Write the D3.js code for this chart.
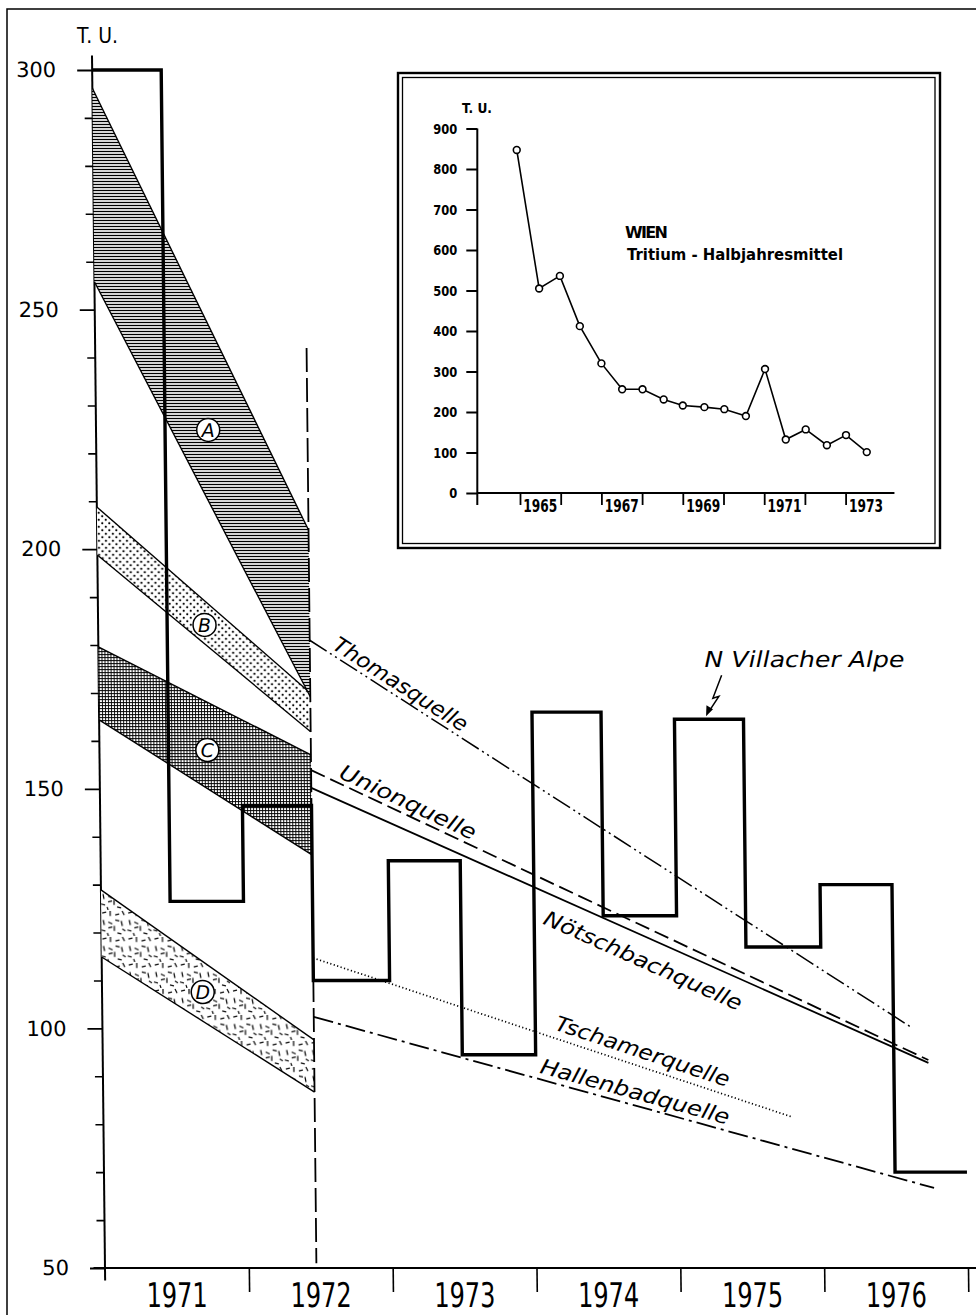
<!DOCTYPE html>
<html>
<head>
<meta charset="utf-8">
<script src="https://cdn.jsdelivr.net/npm/d3@7"></script>
<style>
body { margin: 0; background: #fff; }
svg { display: block; }
</style>
</head>
<body>
<div id="chart"></div>
<script>
// --- main chart: N Villacher Alpe half-year means (step) ---
const stepYears = [1971.0, 1971.48, 1971.99, 1972.47, 1973.0, 1973.5, 1974.01, 1974.49, 1975.0, 1975.48, 1976.0, 1976.5, 1977.0];
const stepValues = [300, 126.5, 146.5, 110, 135, 94.5, 166, 123.5, 164.5, 117, 130, 70, 70];

// shaded bands A-D between 1971 and the 1972 mark
const bandNames = ["A", "B", "C", "D"];
const bandLeftTop = [296.2, 208.8, 179.6, 128.9];
const bandLeftBottom = [255.8, 198.8, 164.4, 114.9];
const bandRightTop = [204, 170, 157.1, 97.6];
const bandRightBottom = [169.2, 161.9, 136.2, 86.7];
const bandLabelYears = [1971.78, 1971.74, 1971.75, 1971.70];
const bandLabelValues = [224.9, 184.2, 158.1, 107.6];
const bandStartYear = 1971.0;
const markYear = 1972.47;
const markTop = 242;

// spring trend lines
const trendNames = ["Thomasquelle", "Unionquelle", "Nötschbachquelle", "Tschamerquelle", "Hallenbadquelle"];
const trendStartValues = [181, 153.9, 150.2, 114.7, 102.4];
const trendEndYears = [1976.63, 1976.74, 1976.74, 1975.79, 1976.77];
const trendEndValues = [100.1, 93.4, 92.8, 81.5, 66.7];

const yMajor = [50, 100, 150, 200, 250, 300];
const yMinor = d3.range(60, 300, 10).filter(v => v % 50 !== 0);
const xYears = [1971, 1972, 1973, 1974, 1975, 1976];

// --- inset: Wien tritium half-year means ---
const wienYears = [1964.92, 1965.47, 1965.98, 1966.47, 1967.0, 1967.51, 1968.01, 1968.53, 1969.0, 1969.53, 1970.02, 1970.55, 1971.02, 1971.53, 1972.02, 1972.54, 1973.01, 1973.52];
const wienValues = [847, 505, 536, 412, 320, 256, 256, 231, 216, 212, 207, 190, 306, 132, 157, 118, 143, 101];
const insetYTicks = d3.range(0, 901, 100);
const insetXTicks = d3.range(1965, 1974);
const insetLabelYears = [1965, 1967, 1969, 1971, 1973];

const FONT = "'DejaVu Sans', 'Liberation Sans', sans-serif";

const svg = d3.select("#chart").append("svg")
    .attr("width", 976)
    .attr("height", 1315);

const defs = svg.append("defs");

// A: dense horizontal hatch
const pA = defs.append("pattern").attr("id", "patA")
    .attr("patternUnits", "userSpaceOnUse").attr("width", 6).attr("height", 3);
pA.append("rect").attr("width", 6).attr("height", 3).attr("fill", "#fff");
pA.append("line").attr("x1", 0).attr("x2", 6).attr("y1", 1.5).attr("y2", 1.5)
    .attr("stroke", "#000").attr("stroke-width", 1.5);

// B: sparse dots
const pB = defs.append("pattern").attr("id", "patB")
    .attr("patternUnits", "userSpaceOnUse").attr("width", 7).attr("height", 7);
pB.append("rect").attr("width", 7).attr("height", 7).attr("fill", "#fff");
pB.append("circle").attr("cx", 1.75).attr("cy", 1.75).attr("r", 1.05).attr("fill", "#000");
pB.append("circle").attr("cx", 5.25).attr("cy", 5.25).attr("r", 1.05).attr("fill", "#000");

// C: fine mesh
const pC = defs.append("pattern").attr("id", "patC")
    .attr("patternUnits", "userSpaceOnUse").attr("width", 3).attr("height", 3);
pC.append("rect").attr("width", 3).attr("height", 3).attr("fill", "#fff");
pC.append("path").attr("d", "M0,0.5H3M0.5,0V3")
    .attr("stroke", "#000").attr("stroke-width", 0.9);

// D: short scattered strokes
const confetti = [[2,3,6,2],[10,1,10,6],[15,5,19,4],[22,1,24,5],[3,10,4,15],[8,12,12,14],[15,10,19,11],
    [21,11,22,16],[1,20,5,21],[8,18,12,17],[14,16,14,21],[17,23,21,24],[22,19,25,21],[7,23,8,26]];
const pD = defs.append("pattern").attr("id", "patD")
    .attr("patternUnits", "userSpaceOnUse").attr("width", 26).attr("height", 26);
pD.append("rect").attr("width", 26).attr("height", 26).attr("fill", "#fff");
pD.selectAll("line").data(confetti).enter().append("line")
    .attr("x1", d => d[0]).attr("y1", d => d[1]).attr("x2", d => d[2]).attr("y2", d => d[3])
    .attr("stroke", "#000").attr("stroke-width", 1.2);

const bandFill = { A: "url(#patA)", B: "url(#patB)", C: "url(#patC)", D: "url(#patD)" };

// outer frame
svg.append("rect")
    .attr("x", 7).attr("y", 9).attr("width", 1000).attr("height", 1400)
    .attr("fill", "none").attr("stroke", "#000").attr("stroke-width", 1.5);

const xs = d3.scaleLinear().domain([1971, 1977]).range([105, 968]);
const ys = d3.scaleLinear().domain([50, 300]).range([1268, 70]);

// the scan is slightly sheared; mimic it
const skewDeg = Math.atan(13 / 1213) * 180 / Math.PI;
const main = svg.append("g")
    .attr("transform", `translate(0,1268) skewX(${skewDeg}) translate(0,-1268)`);

// axes
main.append("line")
    .attr("x1", xs(1971)).attr("x2", xs(1971))
    .attr("y1", ys(303)).attr("y2", ys(47.4))
    .attr("stroke", "#000").attr("stroke-width", 2);
main.append("line")
    .attr("x1", xs(1970.92)).attr("x2", 976)
    .attr("y1", ys(50)).attr("y2", ys(50))
    .attr("stroke", "#000").attr("stroke-width", 2);

const yAxis = d3.axisLeft(ys).tickValues(yMajor).tickSize(15).tickPadding(21).tickFormat(d3.format("d"));
const gy = main.append("g")
    .attr("transform", `translate(${xs(1971)},0)`)
    .call(yAxis)
    .attr("font-family", FONT).attr("font-size", 21);
gy.select(".domain").remove();
gy.selectAll("line").attr("stroke-width", 1.8);
gy.selectAll("text").attr("fill", "#000");

const yAxisMinor = d3.axisLeft(ys).tickValues(yMinor).tickSize(8).tickFormat("");
const gym = main.append("g")
    .attr("transform", `translate(${xs(1971)},0)`)
    .call(yAxisMinor);
gym.select(".domain").remove();
gym.selectAll("line").attr("stroke-width", 1.6);

const xAxis = d3.axisBottom(xs).tickValues(d3.range(1972, 1978)).tickSize(24).tickFormat("");
const gx = main.append("g")
    .attr("transform", `translate(0,${ys(50)})`)
    .call(xAxis);
gx.select(".domain").remove();
gx.selectAll("line").attr("stroke-width", 1.6);

main.selectAll(".year-label")
    .data(xYears)
    .enter().append("text")
    .attr("class", "year-label")
    .attr("x", d => xs(d + 0.5))
    .attr("y", 1307)
    .attr("text-anchor", "middle")
    .attr("font-family", FONT)
    .attr("font-size", 34)
    .attr("textLength", 61)
    .attr("lengthAdjust", "spacingAndGlyphs")
    .text(d => d);

svg.append("text")
    .attr("x", 77).attr("y", 43)
    .attr("font-family", FONT).attr("font-size", 22)
    .attr("textLength", 41).attr("lengthAdjust", "spacingAndGlyphs")
    .text("T. U.");

// bands
const bandOrder = [3, 2, 1, 0];
bandOrder.forEach(i => {
    const pts = [
        [xs(bandStartYear), ys(bandLeftTop[i])],
        [xs(markYear), ys(bandRightTop[i])],
        [xs(markYear), ys(bandRightBottom[i])],
        [xs(bandStartYear), ys(bandLeftBottom[i])]
    ];
    main.append("path")
        .attr("d", "M" + pts.join("L") + "Z")
        .attr("fill", bandFill[bandNames[i]])
        .attr("stroke", "none");
    main.append("line")
        .attr("x1", pts[0][0]).attr("y1", pts[0][1]).attr("x2", pts[1][0]).attr("y2", pts[1][1])
        .attr("stroke", "#000").attr("stroke-width", 1.4);
    main.append("line")
        .attr("x1", pts[3][0]).attr("y1", pts[3][1]).attr("x2", pts[2][0]).attr("y2", pts[2][1])
        .attr("stroke", "#000").attr("stroke-width", 1.4);
});

// trend lines
const trendDash = ["20,4,2,4,2,4", "15,6", null, "1.2,2.4", "20,5,3,5"];
const trendWidth = [1.5, 1.8, 1.8, 1.7, 1.8];
const trendLabelAt = [1972.60, 1972.64, 1974.15, 1974.12, 1974.02];
const trendLabelOffset = [-5, -5, 30, -8, -6];
const trendLabelLength = [155, 148, 214, 182, 195];

trendNames.forEach((name, i) => {
    const x0 = xs(markYear), y0 = ys(trendStartValues[i]);
    const x1 = xs(trendEndYears[i]), y1 = ys(trendEndValues[i]);
    main.append("line")
        .attr("x1", x0).attr("y1", y0).attr("x2", x1).attr("y2", y1)
        .attr("stroke", "#000")
        .attr("stroke-width", trendWidth[i])
        .attr("stroke-dasharray", trendDash[i]);

    const f = (trendLabelAt[i] - markYear) / (trendEndYears[i] - markYear);
    const lx = x0 + (x1 - x0) * f;
    const ly = y0 + (y1 - y0) * f;
    const ang = Math.atan2(y1 - y0, x1 - x0) * 180 / Math.PI;
    main.append("text")
        .attr("transform", `translate(${lx},${ly}) rotate(${ang}) translate(0,${trendLabelOffset[i]})`)
        .attr("font-family", FONT)
        .attr("font-style", "italic")
        .attr("font-size", 21)
        .attr("textLength", trendLabelLength[i])
        .attr("lengthAdjust", "spacingAndGlyphs")
        .text(name);
});

// 1972 mark (dashed)
main.append("line")
    .attr("x1", xs(markYear)).attr("x2", xs(markYear))
    .attr("y1", ys(markTop)).attr("y2", ys(51))
    .attr("stroke", "#000").attr("stroke-width", 1.8)
    .attr("stroke-dasharray", "24,6");

// step function
const stepData = stepYears.map((y, i) => [y, stepValues[i]]);
const stepLine = d3.line()
    .x(d => xs(d[0]))
    .y(d => ys(d[1]))
    .curve(d3.curveStepAfter);
main.append("path")
    .datum(stepData)
    .attr("d", stepLine)
    .attr("fill", "none")
    .attr("stroke", "#000")
    .attr("stroke-width", 3.4)
    .attr("stroke-linejoin", "miter");

// circled band letters
bandNames.forEach((name, i) => {
    const cx = xs(bandLabelYears[i]), cy = ys(bandLabelValues[i]);
    main.append("circle")
        .attr("cx", cx).attr("cy", cy).attr("r", 11.5)
        .attr("fill", "#fff").attr("stroke", "#000").attr("stroke-width", 1.5);
    main.append("text")
        .attr("x", cx).attr("y", cy + 7)
        .attr("text-anchor", "middle")
        .attr("font-family", FONT).attr("font-style", "italic").attr("font-size", 19)
        .text(name);
});

// N Villacher Alpe annotation with flash arrow
const tipX = xs(1975.22), tipY = ys(164.5) - 3;
main.append("path")
    .attr("d", `M${tipX + 16},${tipY - 41}L${tipX + 7},${tipY - 18}L${tipX + 13},${tipY - 20}L${tipX + 3},${tipY - 5}`)
    .attr("fill", "none").attr("stroke", "#000").attr("stroke-width", 1.5);
main.append("path")
    .attr("d", `M${tipX},${tipY}L${tipX + 0.5},${tipY - 11}L${tipX + 7},${tipY - 7}Z`)
    .attr("fill", "#000");
main.append("text")
    .attr("x", tipX - 1).attr("y", tipY - 49)
    .attr("font-family", FONT).attr("font-style", "italic").attr("font-size", 22)
    .attr("textLength", 200).attr("lengthAdjust", "spacingAndGlyphs")
    .text("N  Villacher  Alpe");

// --- inset ---
const inset = svg.append("g");
inset.append("rect")
    .attr("x", 398).attr("y", 73).attr("width", 542).attr("height", 475)
    .attr("fill", "#fff").attr("stroke", "#000").attr("stroke-width", 2.4);
inset.append("rect")
    .attr("x", 402.5).attr("y", 77.5).attr("width", 532.5).attr("height", 466)
    .attr("fill", "none").attr("stroke", "#000").attr("stroke-width", 1.3);

const xi = d3.scaleLinear().domain([1964, 1974]).range([479.3, 886.3]);
const yi = d3.scaleLinear().domain([0, 900]).range([493, 128.5]);
const axisX = xi(1964) - 2;

const yAxisI = d3.axisLeft(yi).tickValues(insetYTicks).tickSize(11).tickPadding(9).tickSizeOuter(0);
const gyi = inset.append("g")
    .attr("transform", `translate(${axisX},0)`)
    .call(yAxisI)
    .attr("font-family", FONT).attr("font-size", 14.5).attr("font-weight", "bold");
gyi.select(".domain").remove();
gyi.selectAll("line").attr("stroke-width", 2);
gyi.selectAll("text").attr("fill", "#000")
    .attr("textLength", d => String(d).length * 8)
    .attr("lengthAdjust", "spacingAndGlyphs");

inset.append("line")
    .attr("x1", axisX).attr("x2", axisX).attr("y1", yi(900)).attr("y2", yi(0) + 12)
    .attr("stroke", "#000").attr("stroke-width", 2);
inset.append("line")
    .attr("x1", axisX).attr("x2", xi(1974.2)).attr("y1", yi(0)).attr("y2", yi(0))
    .attr("stroke", "#000").attr("stroke-width", 2);

const xAxisI = d3.axisBottom(xi).tickValues(insetXTicks).tickSize(12).tickFormat("");
const gxi = inset.append("g").attr("transform", `translate(0,${yi(0)})`).call(xAxisI);
gxi.select(".domain").remove();
gxi.selectAll("line").attr("stroke-width", 1.8);

inset.selectAll(".inset-year")
    .data(insetLabelYears)
    .enter().append("text")
    .attr("class", "inset-year")
    .attr("x", d => xi(d + 0.5))
    .attr("y", 512)
    .attr("text-anchor", "middle")
    .attr("font-family", FONT).attr("font-size", 17).attr("font-weight", "bold")
    .attr("textLength", 34).attr("lengthAdjust", "spacingAndGlyphs")
    .text(d => d);

const wienData = wienYears.map((y, i) => [y, wienValues[i]]);
inset.append("path")
    .datum(wienData)
    .attr("d", d3.line().x(d => xi(d[0])).y(d => yi(d[1])))
    .attr("fill", "none").attr("stroke", "#000").attr("stroke-width", 1.6);
inset.selectAll(".wien-pt")
    .data(wienData)
    .enter().append("circle")
    .attr("class", "wien-pt")
    .attr("cx", d => xi(d[0])).attr("cy", d => yi(d[1])).attr("r", 3.4)
    .attr("fill", "#fff").attr("stroke", "#000").attr("stroke-width", 1.6);

inset.append("text")
    .attr("x", 462).attr("y", 113)
    .attr("font-family", FONT).attr("font-size", 14).attr("font-weight", "bold")
    .attr("textLength", 30).attr("lengthAdjust", "spacingAndGlyphs")
    .text("T. U.");
inset.append("text")
    .attr("x", 625).attr("y", 238)
    .attr("font-family", FONT).attr("font-size", 16).attr("font-weight", "bold")
    .attr("textLength", 43).attr("lengthAdjust", "spacing")
    .text("WIEN");
inset.append("text")
    .attr("x", 627).attr("y", 260)
    .attr("font-family", FONT).attr("font-size", 16).attr("font-weight", "bold")
    .attr("textLength", 216).attr("lengthAdjust", "spacingAndGlyphs")
    .text("Tritium - Halbjahresmittel");
</script>
</body>
</html>
